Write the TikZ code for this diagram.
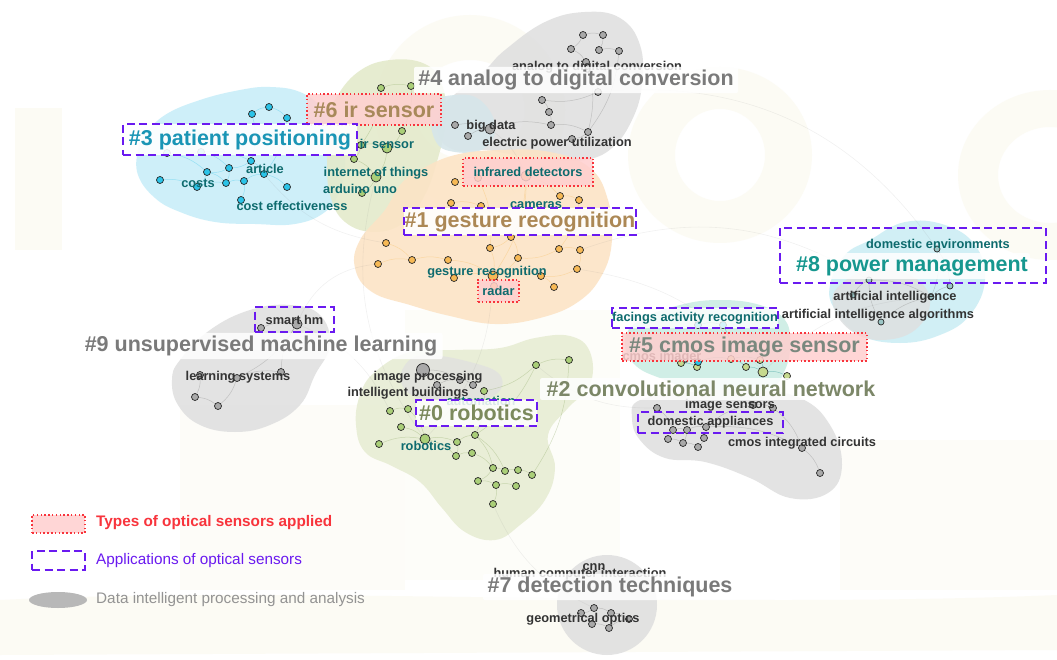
\documentclass[tikz,border=0pt]{standalone}
\usepackage{fontspec}
\setmainfont{Liberation Sans}
\usetikzlibrary{shapes.geometric}
\pgfdeclarelayer{wmark}
\pgfdeclarelayer{blobs}
\pgfdeclarelayer{links}
\pgfsetlayers{wmark,blobs,links,main}
\definecolor{appc}{HTML}{6A1AF0}
\definecolor{typc}{HTML}{F8343C}
\definecolor{typfill}{HTML}{FFCFCF}
\definecolor{kwteal}{HTML}{0E6B6E}
\definecolor{kwdark}{HTML}{333333}
\definecolor{wm}{HTML}{F6F3DC}
% cluster areas
\definecolor{bcyan}{HTML}{C9EEF9}
\definecolor{bgreen}{HTML}{E4EACB}
\definecolor{bgray}{HTML}{E0E0E0}
\definecolor{borange}{HTML}{FCE4C6}
\definecolor{bteal}{HTML}{CDEEF5}
\definecolor{bmint}{HTML}{CBEDE4}
\definecolor{bolive}{HTML}{E7EDD4}
\definecolor{bgcyan}{HTML}{D6E6EA}
% keyword dots
\definecolor{ncyan}{HTML}{2BC3E8}
\definecolor{ngreen}{HTML}{AACF78}
\definecolor{ngray}{HTML}{A9A9A9}
\definecolor{norange}{HTML}{F7B955}
\definecolor{nteal}{HTML}{9CC6C6}
\definecolor{nlime}{HTML}{C6D98E}
% cluster label colours
\definecolor{ltan}{HTML}{A8895A}
\definecolor{lcyan}{HTML}{1A95B5}
\definecolor{lgray}{HTML}{7A7A7A}
\definecolor{lteal}{HTML}{16978F}
\definecolor{lsage}{HTML}{7A887E}
\definecolor{lolive}{HTML}{7C8A5C}
\definecolor{lmoss}{HTML}{7C8768}
\newcommand\kwf{\fontsize{12.8}{14}\selectfont\bfseries}
\newcommand\lblf{\fontsize{21.5}{24}\selectfont\bfseries}
\newcommand\legf{\fontsize{15.3}{17}\selectfont}
\begin{document}
\begin{tikzpicture}[x=1pt,y=-1pt,
  cnode/.style={circle,draw=black!85,line width=0.7pt,inner sep=0pt,minimum size=7pt},
  bignode/.style={cnode,minimum size=10pt},
  kwt/.style={font=\kwf,text=kwteal,inner sep=0pt},
  kwd/.style={font=\kwf,text=kwdark,inner sep=0pt},
  lbl/.style={font=\lblf,inner sep=0pt},
  band/.style={lbl,fill=white,fill opacity=0.85,text opacity=1,inner xsep=2pt,inner ysep=3pt,rounded corners=2pt},
  appbox/.style={draw=appc,dash pattern=on 8pt off 4.5pt,line width=2.2pt,inner sep=0pt},
  typbox/.style={draw=typc,dash pattern=on 1.5pt off 2.3pt,line width=1.8pt,fill=typfill,fill opacity=0.85,text opacity=1,inner sep=0pt},
  lk/.style={line width=0.5pt,opacity=0.35},
  far/.style={line width=0.6pt,draw=gray,opacity=0.11},
  blob/.style={fill opacity=0.9},
  wmk/.style={fill=wm,fill opacity=0.3}]
\useasboundingbox (0,0) rectangle (1057,660);

% paper and faint background lettering
\begin{pgfonlayer}{wmark}
\fill[white] (0,0) rectangle (1057,660);
\fill[wmk] (15,108) rectangle (62,250);
\fill[wmk,even odd rule] (720,155) ellipse (92pt and 88pt) (720,155) ellipse (45pt and 46pt);
\fill[wmk,even odd rule] (470,110) ellipse (95pt and 95pt) (470,110) ellipse (55pt and 50pt);
\fill[wmk,even odd rule] (1050,175) ellipse (92pt and 85pt) (1050,175) ellipse (52pt and 48pt);
\fill[wmk] (0,600) .. controls (300,585) and (700,610) .. (1057,595) -- (1057,650) -- (0,655) -- cycle;
\fill[wmk,fill opacity=0.2] (180,405) rectangle (405,590);
\fill[wmk,fill opacity=0.2] (840,440) rectangle (1057,590);
\fill[wmk,fill opacity=0.15] (405,310) rectangle (620,580);
\end{pgfonlayer}

% cluster areas
\begin{pgfonlayer}{blobs}
\fill[blob,bcyan] plot[smooth cycle,tension=0.7] coordinates {(145,135) (165,115) (200,100) (240,90) (270,87) (300,92) (322,108) (335,130) (345,160) (340,190) (325,212) (295,224) (255,224) (215,222) (180,212) (155,198) (138,175) (138,150)};
\fill[blob,bgreen] plot[smooth cycle,tension=0.7] coordinates {(335,100) (358,72) (390,60) (425,64) (442,85) (446,120) (438,158) (425,195) (405,222) (375,232) (345,222) (330,195) (327,160) (328,125)};
\fill[blob,bgray] plot[smooth cycle,tension=0.7] coordinates {(505,50) (545,22) (585,12) (620,18) (640,45) (642,85) (632,120) (612,148) (585,160) (550,160) (515,155) (485,150) (455,150) (438,135) (440,110) (460,90) (485,70)};
\fill[blob,bgcyan] plot[smooth cycle,tension=0.7] coordinates {(432,105) (455,95) (480,100) (495,125) (485,148) (455,152) (435,140)};
\fill[blob,borange] plot[smooth cycle,tension=0.7] coordinates {(420,170) (455,155) (500,150) (550,152) (590,168) (608,200) (612,240) (602,275) (578,302) (540,318) (495,324) (450,316) (410,305) (372,292) (355,268) (360,240) (385,210) (400,185)};
\fill[blob,bteal] plot[smooth cycle,tension=0.7] coordinates {(870,240) (905,222) (945,225) (975,245) (985,280) (970,315) (940,335) (900,343) (860,335) (835,310) (830,285) (845,255)};
\fill[blob,bgray!90!bteal] plot[smooth cycle,tension=0.7] coordinates {(840,285) (870,270) (910,275) (930,300) (915,330) (880,340) (850,330) (833,305)};
\fill[blob,bmint] plot[smooth cycle,tension=0.7] coordinates {(640,320) (680,305) (720,300) (760,305) (785,320) (790,345) (785,370) (770,390) (740,395) (700,392) (665,380) (635,365) (625,340)};
\fill[blob,bgray] plot[smooth cycle,tension=0.7] coordinates {(180,360) (210,330) (250,310) (290,305) (320,315) (330,345) (315,375) (300,405) (270,425) (235,432) (200,425) (178,405) (172,380)};
\fill[blob,bolive] plot[smooth cycle,tension=0.7] coordinates {(375,372) (410,352) (455,350) (500,348) (535,338) (570,336) (590,352) (590,385) (568,408) (548,435) (555,468) (545,500) (520,525) (495,540) (465,532) (442,508) (420,482) (392,466) (365,452) (356,425) (360,395)};
\fill[blob,bgray,fill opacity=0.75] plot[smooth cycle,tension=0.7] coordinates {(405,365) (425,355) (470,362) (500,375) (495,395) (460,400) (420,398) (402,385)};
\fill[blob,bgray] plot[smooth cycle,tension=0.7] coordinates {(640,400) (690,392) (750,390) (800,398) (830,425) (842,465) (828,493) (790,498) (750,478) (705,462) (665,458) (640,440) (632,418)};
\fill[blob,bgray] (607,605) ellipse (50pt and 50pt);
\end{pgfonlayer}

% keyword dots
\foreach \i/\x/\y in {1/252/114,2/269/107,3/287/118,4/167/153,5/201/152,6/251/161,7/229/168,8/207/172,9/160/180,10/197/187,11/226/183,12/244/181,13/264/174,14/287/187,15/241/200}
  \node[cnode,fill=ncyan] (c3-\i) at (\x,\y) {};
\foreach \i/\x/\y/\s in {1/381/88/cnode,2/411/86/cnode,3/402/131/cnode,4/361/145/cnode,5/387/148/bignode,6/354/159/cnode,7/376/177/bignode,8/362/193/cnode}
  \node[\s,fill=ngreen] (c6-\i) at (\x,\y) {};
\foreach \i/\x/\y/\s in {1/583/35/cnode,2/603/35/cnode,3/571/49/cnode,4/599/50/cnode,5/619/51/cnode,6/586/62/cnode,7/598/92/cnode,8/542/100/cnode,9/549/112/cnode,10/551/125/cnode,11/588/132/cnode,12/572/139/cnode,13/455/125/cnode,14/468/136/cnode,15/490/129/bignode}
  \node[\s,fill=ngray] (c4-\i) at (\x,\y) {};
\foreach \i/\x/\y/\s in {1/455/182/cnode,2/478/178/cnode,3/526/176/bignode,4/560/196/cnode,5/579/200/cnode,6/451/203/cnode,7/481/206/cnode,8/386/243/cnode,9/511/237/cnode,10/490/248/cnode,11/559/249/cnode,12/580/250/cnode,13/378/264/cnode,14/412/260/cnode,15/448/260/cnode,16/518/258/cnode,17/577/269/cnode,18/454/278/cnode,19/493/276/bignode,20/541/276/cnode,21/554/287/cnode,22/494/286/cnode}
  \node[\s,fill=norange] (c1-\i) at (\x,\y) {};
\foreach \i/\x/\y in {1/937/249,2/950/286,3/869/280,4/931/297,5/881/322,6/853/295}
  \node[cnode,fill=nteal,minimum size=6pt] (c8-\i) at (\x,\y) {};
\foreach \i/\x/\y/\s/\c in {1/698/325/cnode/ncyan,2/723/325/cnode/ncyan,3/681/363/cnode/nlime,4/697/367/cnode/nlime,5/698/362/cnode/ncyan,6/746/367/cnode/nlime,7/763/372/bignode/nlime,8/787/376/cnode/nlime,9/731/359/cnode/nlime,10/760/360/cnode/nlime}
  \node[\s,fill=\c] (c5-\i) at (\x,\y) {};
\foreach \i/\x/\y in {1/657/408,2/773/408,3/753/405,4/673/430,5/687/430,6/706/427,7/668/439,8/683/443,9/704/438,10/698/447,11/802/448,12/820/473}
  \node[cnode,fill=ngray] (c2-\i) at (\x,\y) {};
\foreach \i/\x/\y/\s in {1/261/328/cnode,2/297/324/bignode,3/200/375/cnode,4/237/378/cnode,5/281/372/cnode,6/195/397/cnode,7/218/406/cnode}
  \node[\s,fill=ngray] (c9-\i) at (\x,\y) {};
\node[cnode,fill=ngray,minimum size=13pt] (cg-1) at (423,370) {};
\foreach \i/\x/\y in {2/437/385,3/460/380,4/473/385}
  \node[cnode,fill=ngray] (cg-\i) at (\x,\y) {};
\foreach \i/\x/\y/\s in {1/536/365/cnode,2/569/360/cnode,3/484/391/cnode,4/390/411/cnode,5/408/409/cnode,6/401/427/cnode,7/379/444/cnode,8/425/439/bignode,9/457/442/cnode,10/475/435/cnode,11/456/456/cnode,12/472/453/cnode,13/493/468/cnode,14/505/471/cnode,15/518/470/cnode,16/532/475/cnode,17/478/481/cnode,18/496/485/cnode,19/516/486/cnode,20/493/504/cnode}
  \node[\s,fill=ngreen] (c0-\i) at (\x,\y) {};
\foreach \i/\x/\y in {1/594/608,2/581/613,3/611/613,4/592/624,5/609/628,6/629/619}
  \node[cnode,fill=ngray] (c7-\i) at (\x,\y) {};

% co-occurrence links
\begin{pgfonlayer}{links}
\foreach \a/\b in {1/2,2/3,1/6,6/7,7/8,8/10,10/11,11/12,12/13,13/14,6/13,5/7,4/8,9/10,12/15,7/11,3/13,5/6,8/11}
  \draw[lk,draw=ncyan] (c3-\a) to[bend left=15] (c3-\b);
\foreach \a/\b in {1/2,2/3,3/5,4/5,5/7,6/7,7/8,4/6,1/4}
  \draw[lk,draw=ngreen!80!black] (c6-\a) to[bend left=15] (c6-\b);
\foreach \a/\b in {1/2,1/3,2/4,4/5,3/6,6/7,7/8,8/9,9/10,10/11,11/12,13/15,14/15,15/10,6/11,5/11}
  \draw[lk,draw=gray] (c4-\a) to[bend left=15] (c4-\b);
\foreach \a/\b in {1/2,2/3,3/4,4/5,3/9,6/7,7/9,9/10,10/19,9/16,16/19,19/20,20/21,19/22,18/19,15/19,14/15,13/14,8/14,11/16,11/12,12/17,17/20,3/19,2/10,5/11}
  \draw[lk,draw=norange] (c1-\a) to[bend left=15] (c1-\b);
\foreach \a/\b in {1/2,3/4,4/2,5/3,6/3,1/4,5/4}
  \draw[lk,draw=gray] (c8-\a) to[bend left=15] (c8-\b);
\foreach \a/\b in {1/2,3/4,4/5,5/9,9/10,10/7,6/7,7/8,9/6,2/9}
  \draw[lk,draw=teal] (c5-\a) to[bend left=15] (c5-\b);
\foreach \a/\b in {1/4,4/5,5/6,6/9,7/8,8/10,9/10,6/3,3/2,2/11,11/12,5/8,6/11}
  \draw[lk,draw=gray] (c2-\a) to[bend left=15] (c2-\b);
\foreach \a/\b in {1/2,3/4,4/5,3/6,6/7,4/7,5/2,2/4}
  \draw[lk,draw=gray] (c9-\a) to[bend left=15] (c9-\b);
\foreach \a/\b in {1/2,2/3,3/4,1/3}
  \draw[lk,draw=gray] (cg-\a) to[bend left=15] (cg-\b);
\foreach \a/\b in {1/2,1/3,3/10,4/5,5/8,6/8,7/8,8/9,9/10,9/11,11/12,12/13,13/14,14/15,15/16,13/17,17/18,18/19,18/20,10/13,8/11,1/10,2/16,10/14}
  \draw[lk,draw=ngreen!80!black] (c0-\a) to[bend left=15] (c0-\b);
\foreach \a/\b in {1/2,1/3,2/4,3/5,4/5,5/6,3/6}
  \draw[lk,draw=gray] (c7-\a) to[bend left=15] (c7-\b);
% links between clusters
\draw[far] (c1-19) to[bend left=20] (c0-8);
\draw[far] (c6-7) to[bend right=25] (c0-8);
\draw[far] (c3-13) to[bend right=20] (c1-8);
\draw[far] (c4-15) to[bend left=15] (c1-3);
\draw[far] (c1-17) to[bend left=20] (c5-7);
\draw[far] (c5-7) to[bend left=20] (c8-4);
\draw[far] (c0-1) to[bend right=20] (c2-1);
\draw[far] (c9-2) to[bend left=20] (c0-4);
\draw[far] (c0-20) to[bend right=20] (c7-1);
\draw[far] (c1-12) to[bend left=25] (c8-3);
\draw[far] (c4-7) to[bend left=30] (c8-1);
\draw[far] (c1-13) to[bend right=30] (c9-2);
\end{pgfonlayer}

% keywords partly hidden behind labels
\node[kwt] (k-irs) at (387,144) {ir sensor};
\node[kwt] (k-cam) at (536,205) {cameras};
\node[kwt] (k-aut) at (481,401) {automation};
\node[kwd] (k-adc) at (597,67) {analog to digital conversion};
\node[kwd] (k-ims) at (730,405) {image sensors};
\node[kwd] (k-cmi) at (662,357) {cmos imager};
\node[kwd] (k-hci) at (580,574) {human computer interaction};
\node[kwd] (k-cnn) at (594,567) {cnn};

% keywords
\node[kwt] (k-iot) at (376,173) {internet of things};
\node[kwt] (k-ard) at (360,189) {arduino uno};
\node[kwt] (k-art) at (265,169) {article};
\node[kwt] (k-cst) at (198,183) {costs};
\node[kwt] (k-cef) at (292,206) {cost effectiveness};
\node[kwt] (k-ges) at (487,272) {gesture recognition};
\node[kwt] (k-dom) at (938,244) {domestic environments};
\node[kwt] (k-rob) at (426,446) {robotics};
\node[kwd] (k-big) at (491,126) {big data};
\node[kwd] (k-epu) at (557,143) {electric power utilization};
\node[kwd] (k-ai) at (895,297) {artificial intelligence};
\node[kwd] (k-aia) at (878,315) {artificial intelligence algorithms};
\node[kwd] (k-lrn) at (238,377) {learning systems};
\node[kwd] (k-imp) at (428,377) {image processing};
\node[kwd] (k-ibl) at (408,393) {intelligent buildings};
\node[kwd] (k-cic) at (802,443) {cmos integrated circuits};
\node[kwd] (k-geo) at (583,619) {geometrical optics};

% cluster labels
\node[band,text=lgray,minimum width=324pt] (l4) at (576,80) {\#4 analog to digital conversion};
\node[band,text=lgray,minimum width=363pt] (l9) at (261,346) {\#9 unsupervised machine learning};
\node[band,text=lmoss,minimum width=342pt] (l2) at (711,389) {\#2 convolutional neural network};
\node[band,text=lgray,minimum width=254pt] (l7) at (610,587) {\#7 detection techniques};
\node[typbox,lbl,text=ltan,minimum width=134pt,minimum height=31pt] (l6) at (374,109.5) {\#6 ir sensor};
\node[appbox,lbl,fill=white,fill opacity=0.9,text opacity=1,text=lcyan,minimum width=234pt,minimum height=31pt] (l3) at (240,139.5) {\#3 patient positioning};
\node[appbox,lbl,fill=white,fill opacity=0.9,text opacity=1,text=ltan!95!orange,minimum width=232pt,minimum height=27pt] (l1) at (520,221.5) {\#1 gesture recognition};
\node[typbox,font=\kwf,text=kwteal,minimum width=130pt,minimum height=28pt] (t-ird) at (528,172) {infrared detectors};
\node[typbox,font=\kwf,text=kwteal,minimum width=41pt,minimum height=22pt] (t-rad) at (498.5,291) {radar};
\node[appbox,minimum width=266pt,minimum height=55pt] (a-pm) at (913,255.5) {};
\node[band,text=lteal] (l8) at (912,266) {\#8 power management};
\node[appbox,font=\kwf,text=kwteal,fill=white,fill opacity=0.8,text opacity=1,minimum width=166pt,minimum height=20pt] (a-far) at (695,318) {facings activity recognition};
\node[typbox,lbl,text=lsage,minimum width=245pt,minimum height=28pt] (l5) at (744.5,347) {\#5 cmos image sensor};
\node[appbox,font=\kwf,text=kwdark,minimum width=79pt,minimum height=25pt] (a-shm) at (294.5,319.5) {smart hm};
\node[appbox,lbl,fill=white,fill opacity=0.85,text opacity=1,text=lolive,minimum width=121pt,minimum height=26pt] (l0) at (476.5,413) {\#0 robotics};
\node[appbox,font=\kwf,text=kwdark,minimum width=145pt,minimum height=21pt] (a-dap) at (710.5,422.5) {domestic appliances};

% legend
\node[typbox,minimum width=53pt,minimum height=18pt] (g-typ) at (58.5,524) {};
\node[font=\legf\bfseries,text=typc,anchor=west,inner sep=0pt] (g-typt) at (96,523) {Types of optical sensors applied};
\node[appbox,minimum width=53pt,minimum height=19pt] (g-app) at (58.5,560.5) {};
\node[font=\legf,text=appc,anchor=west,inner sep=0pt] (g-appt) at (96,561) {Applications of optical sensors};
\node[ellipse,fill=black!28,minimum width=58pt,minimum height=16pt,inner sep=0pt] (g-dat) at (58,600) {};
\node[font=\legf,text=gray!85,anchor=west,inner sep=0pt] (g-datt) at (96,600) {Data intelligent processing and analysis};
\end{tikzpicture}
\end{document}
